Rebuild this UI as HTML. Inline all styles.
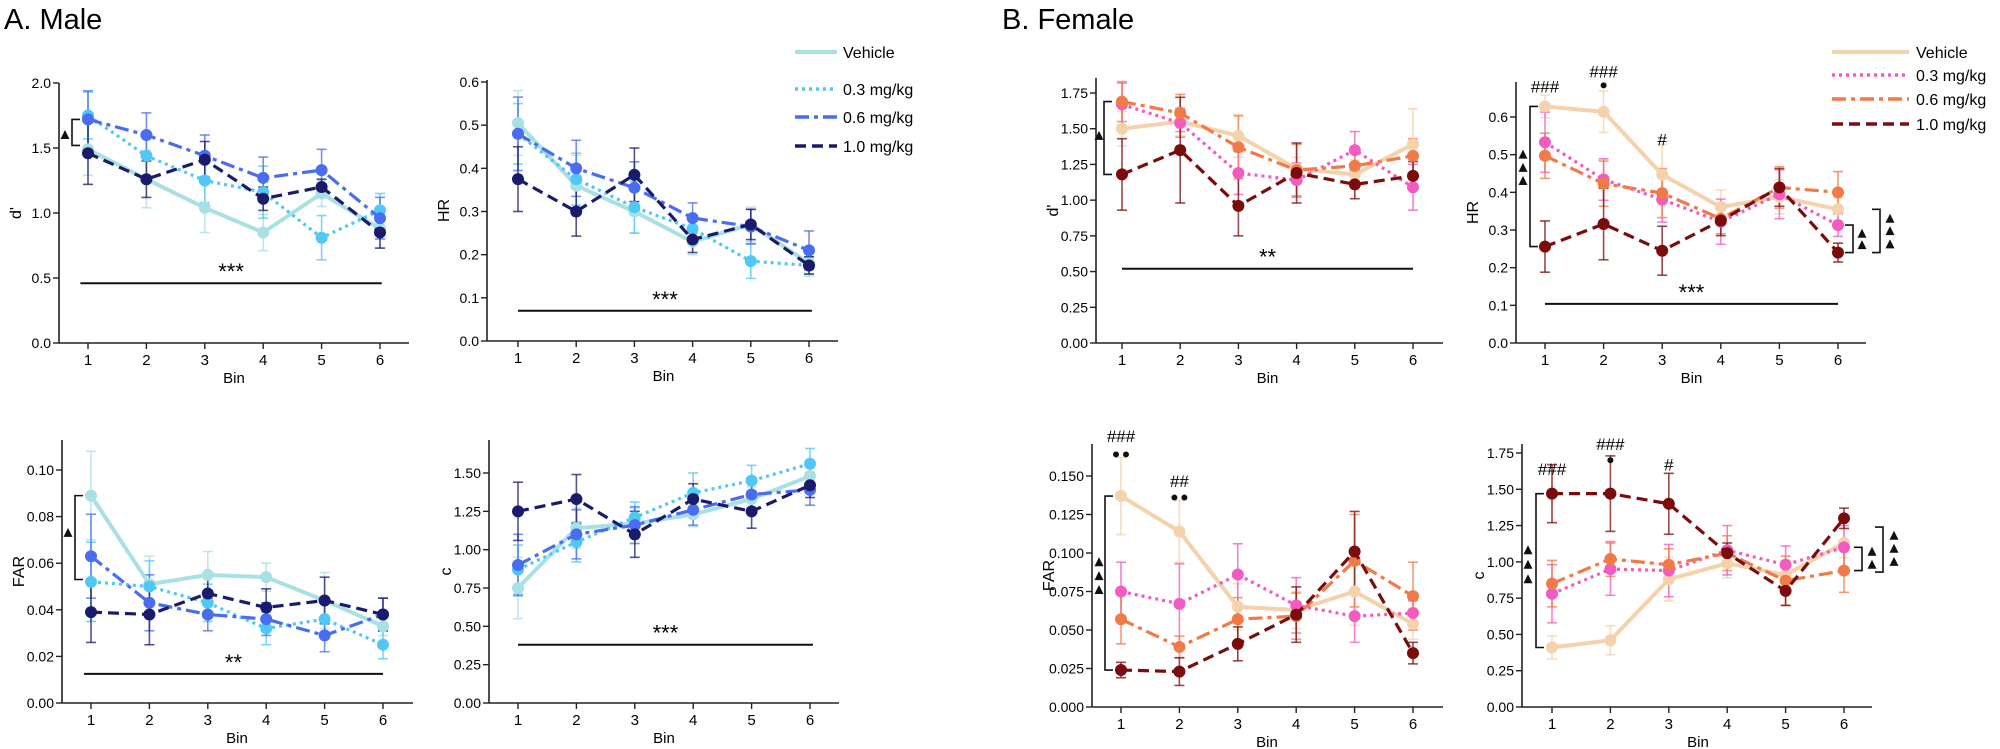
<!DOCTYPE html>
<html><head><meta charset="utf-8"><style>
body{margin:0;background:#fff;}
svg{display:block;font-family:"Liberation Sans",Arial,sans-serif;}
</style></head><body>
<svg id="s" width="2000" height="749" xmlns="http://www.w3.org/2000/svg">
<text x="4" y="29" font-size="29">A. Male</text>
<text x="1002" y="29" font-size="29">B. Female</text>
</svg>
<script>
const NS="http://www.w3.org/2000/svg",S=document.getElementById('s');
function el(t,a,txt){const e=document.createElementNS(NS,t);for(const k in a)e.setAttribute(k,a[k]);if(txt!==undefined)e.textContent=txt;S.appendChild(e);return e;}
const M={veh:'#a9e0e3',d3:'#4fc8f5',d6:'#4a6cf0',d1:'#1b1b6b'};
const F={veh:'#f3d2ac',d3:'#f25cc0',d6:'#f07a48',d1:'#7a0c0c'};
const DASH={veh:'',d3:'3 4',d6:'14 5 4 5',d1:'11 6'};
function panel(p){
 const {ax,y0,ytop,x1,dx,xend,ymax,ticks,fmt,ylab,cols,data,err}=p;
 const sy=v=>y0-(v/ymax)*(y0-p.ymaxY);
 const sx=b=>x1+(b-1)*dx;
 p.sx=sx;p.sy=sy;
 el('line',{x1:ax,y1:ytop,x2:ax,y2:y0,stroke:'#222','stroke-width':1.6});
 el('line',{x1:ax,y1:y0,x2:xend,y2:y0,stroke:'#222','stroke-width':1.6});
 ticks.forEach(v=>{const y=sy(v);el('line',{x1:ax-6,y1:y,x2:ax,y2:y,stroke:'#222','stroke-width':1.4});
  el('text',{x:ax-8,y:y+5,'font-size':14,'text-anchor':'end'},v.toFixed(fmt));});
 for(let b=1;b<=6;b++){el('line',{x1:sx(b),y1:y0,x2:sx(b),y2:y0+6,stroke:'#222','stroke-width':1.4});
  el('text',{x:sx(b),y:y0+22,'font-size':15,'text-anchor':'middle'},b);}
 el('text',{x:(x1+sx(6))/2,y:y0+40,'font-size':15,'text-anchor':'middle'},'Bin');
 el('text',{transform:`translate(${ax-38},${(ytop+y0)/2}) rotate(-90)`,'font-size':16,'text-anchor':'middle'},ylab);
 ['veh','d3','d6','d1'].forEach(k=>{
  const c=cols[k],d=data[k],e=err[k];
  d.forEach((v,i)=>{const x=sx(i+1),a=sy(v-e[i]),bb=sy(v+e[i]);
   el('line',{x1:x,y1:a,x2:x,y2:bb,stroke:c,'stroke-width':1.6,opacity:.75});
   el('line',{x1:x-5,y1:a,x2:x+5,y2:a,stroke:c,'stroke-width':1.6,opacity:.75});
   el('line',{x1:x-5,y1:bb,x2:x+5,y2:bb,stroke:c,'stroke-width':1.6,opacity:.75});});
 });
 ['veh','d3','d6','d1'].forEach(k=>{
  const c=cols[k],d=data[k];
  const pts=d.map((v,i)=>sx(i+1)+','+sy(v)).join(' ');
  el('polyline',{points:pts,fill:'none',stroke:c,'stroke-width':k=='veh'?4:3.2,'stroke-dasharray':DASH[k]});
  d.forEach((v,i)=>el('circle',{cx:sx(i+1),cy:sy(v),r:6,fill:c}));
 });
 if(p.sig){const [yv,b1,b2,txt]=p.sig;const y=sy(yv);
  el('line',{x1:sx(b1),y1:y,x2:sx(b2),y2:y,stroke:'#111','stroke-width':2});
  el('text',{x:(sx(b1)+sx(b2))/2,y:y-4,'font-size':22,'text-anchor':'middle'},txt);}
 return p;
}
function bracket(x,ya,yb,dir){const w=8*dir;el('polyline',{points:`${x+w},${ya} ${x},${ya} ${x},${yb} ${x+w},${yb}`,fill:'none',stroke:'#111','stroke-width':1.6});}
function tri(x,y){el('polygon',{points:`${x-4.5},${y+4} ${x+4.5},${y+4} ${x},${y-5}`,fill:'#111'});}
function txt(x,y,t,s){el('text',{x:x,y:y,'font-size':s||17,'text-anchor':'middle'},t);}
function dot(x,y){el('circle',{cx:x,cy:y,r:3,fill:'#111'});}

// Male d'
let p=panel({ax:59,y0:343,ytop:83,ymaxY:83,x1:88,dx:58.4,xend:409,ymax:2,ticks:[0,.5,1,1.5,2],fmt:1,ylab:"d'",cols:M,
 data:{veh:[1.49,1.26,1.04,.85,1.15,.88],d3:[1.75,1.44,1.25,1.16,.81,1.02],d6:[1.72,1.60,1.44,1.27,1.33,.96],d1:[1.46,1.26,1.41,1.11,1.20,.85]},
 err:{veh:[.2,.22,.19,.14,.1,.15],d3:[.18,.16,.17,.2,.17,.13],d6:[.22,.17,.16,.16,.16,.16],d1:[.24,.14,.14,.09,.06,.12]},sig:[.46,.87,6.03,'***']});
bracket(72,p.sy(1.72),p.sy(1.52),1);tri(65,p.sy(1.6));
// Male HR
p=panel({ax:487,y0:341,ytop:80,ymaxY:82,x1:518,dx:58.2,xend:838,ymax:.6,ticks:[0,.1,.2,.3,.4,.5,.6],fmt:1,ylab:'HR',cols:M,
 data:{veh:[.505,.36,.30,.23,.27,.18],d3:[.48,.375,.31,.26,.185,.175],d6:[.48,.40,.355,.285,.265,.21],d1:[.375,.30,.385,.235,.27,.175]},
 err:{veh:[.075,.07,.05,.03,.04,.03],d3:[.07,.06,.06,.03,.04,.02],d6:[.085,.065,.06,.035,.04,.045],d1:[.075,.057,.062,.03,.035,.02]},sig:[.07,1,6.05,'***']});
// Male FAR
p=panel({ax:62,y0:703,ytop:440,ymaxY:470,x1:91,dx:58.4,xend:413,ymax:.1,ticks:[0,.02,.04,.06,.08,.1],fmt:2,ylab:'FAR',cols:M,
 data:{veh:[.089,.051,.055,.054,.044,.033],d3:[.052,.050,.043,.032,.036,.025],d6:[.063,.043,.038,.036,.029,.038],d1:[.039,.038,.047,.041,.044,.038]},
 err:{veh:[.019,.012,.01,.006,.012,.004],d3:[.017,.011,.008,.007,.007,.006],d6:[.018,.012,.007,.007,.007,.007],d1:[.013,.013,.008,.008,.01,.007]},sig:[.0125,.88,6,'**']});
bracket(75,p.sy(.089),p.sy(.053),1);tri(68,p.sy(.073));
// Male c
p=panel({ax:489,y0:703,ytop:440,ymaxY:473,x1:518,dx:58.4,xend:839,ymax:1.5,ticks:[0,.25,.5,.75,1,1.25,1.5],fmt:2,ylab:'c',cols:M,
 data:{veh:[.75,1.14,1.17,1.23,1.33,1.48],d3:[.87,1.05,1.21,1.37,1.45,1.56],d6:[.90,1.10,1.16,1.26,1.36,1.39],d1:[1.25,1.33,1.10,1.33,1.25,1.42]},
 err:{veh:[.2,.13,.1,.08,.08,.07],d3:[.16,.13,.1,.13,.1,.1],d6:[.2,.16,.12,.1,.1,.1],d1:[.19,.16,.15,.1,.11,.08]},sig:[.38,1,6.05,'***']});
// Female d'
p=panel({ax:1096,y0:343,ytop:78,ymaxY:93,x1:1122,dx:58.2,xend:1443,ymax:1.75,ticks:[0,.25,.5,.75,1,1.25,1.5,1.75],fmt:2,ylab:"d'",cols:F,
 data:{veh:[1.50,1.55,1.45,1.22,1.18,1.39],d3:[1.67,1.54,1.19,1.14,1.35,1.09],d6:[1.69,1.61,1.37,1.21,1.24,1.31],d1:[1.18,1.35,.96,1.19,1.11,1.17]},
 err:{veh:[.12,.1,.15,.08,.1,.25],d3:[.15,.1,.15,.12,.13,.16],d6:[.14,.13,.22,.18,.12,.12],d1:[.25,.37,.21,.21,.1,.1]},sig:[.52,1,6,'**']});
bracket(1104,p.sy(1.69),p.sy(1.18),1);tri(1099,p.sy(1.45));
// Female HR
p=panel({ax:1516,y0:343,ytop:82,ymaxY:117,x1:1545,dx:58.6,xend:1866,ymax:.6,ticks:[0,.1,.2,.3,.4,.5,.6],fmt:1,ylab:'HR',cols:F,
 data:{veh:[.628,.614,.447,.361,.388,.355],d3:[.533,.434,.381,.322,.395,.313],d6:[.497,.423,.398,.330,.413,.400],d1:[.256,.316,.245,.325,.413,.240]},
 err:{veh:[.03,.055,.08,.045,.045,.03],d3:[.08,.055,.06,.06,.065,.03],d6:[.06,.06,.065,.04,.055,.055],d1:[.068,.095,.065,.04,.05,.025]},sig:[.104,1,6,'***']});
bracket(1530,p.sy(.628),p.sy(.256),1);[.50,.465,.43].forEach(v=>tri(1523,p.sy(v)));
txt(p.sx(1),p.sy(.665),'###');txt(p.sx(2),p.sy(.705),'###');dot(p.sx(2),p.sy(.684));txt(p.sx(3),p.sy(.525),'#');
bracket(1853,p.sy(.313),p.sy(.240),-1);[.29,.26].forEach(v=>tri(1862,p.sy(v)));
bracket(1880,p.sy(.355),p.sy(.24),-1);[.33,.297,.262].forEach(v=>tri(1890,p.sy(v)));
// Female FAR
p=panel({ax:1092,y0:707,ytop:444,ymaxY:476,x1:1121,dx:58.4,xend:1443,ymax:.15,ticks:[0,.025,.05,.075,.1,.125,.15],fmt:3,ylab:'FAR',cols:F,
 data:{veh:[.137,.114,.065,.063,.075,.054],d3:[.075,.067,.086,.066,.059,.061],d6:[.057,.039,.057,.059,.095,.072],d1:[.024,.023,.041,.060,.101,.035]},
 err:{veh:[.025,.02,.015,.012,.022,.01],d3:[.019,.026,.02,.018,.017,.008],d6:[.016,.007,.014,.015,.03,.022],d1:[.005,.009,.011,.018,.026,.007]},sig:null});
bracket(1105,p.sy(.137),p.sy(.024),1);[.094,.085,.076].forEach(v=>tri(1099,p.sy(v)));
txt(p.sx(1),p.sy(.172),'###');dot(p.sx(1)-5,p.sy(.164));dot(p.sx(1)+5,p.sy(.164));
txt(p.sx(2),p.sy(.143),'##');dot(p.sx(2)-5,p.sy(.136));dot(p.sx(2)+5,p.sy(.136));
// Female c
p=panel({ax:1522,y0:707,ytop:444,ymaxY:453,x1:1552,dx:58.4,xend:1872,ymax:1.75,ticks:[0,.25,.5,.75,1,1.25,1.5,1.75],fmt:2,ylab:'c',cols:F,
 data:{veh:[.41,.46,.88,.99,.91,1.13],d3:[.78,.95,.94,1.08,.98,1.10],d6:[.85,1.02,.98,1.06,.87,.94],d1:[1.47,1.47,1.40,1.06,.80,1.30]},
 err:{veh:[.08,.1,.15,.1,.1,.1],d3:[.2,.18,.18,.17,.13,.15],d6:[.16,.12,.11,.12,.17,.15],d1:[.2,.26,.21,.07,.1,.07]},sig:null});
bracket(1536,p.sy(1.47),p.sy(.41),1);[1.08,.98,.88].forEach(v=>tri(1528,p.sy(v)));
txt(p.sx(1),p.sy(1.6),'###');txt(p.sx(2),p.sy(1.77),'###');dot(p.sx(2),p.sy(1.7));txt(p.sx(3),p.sy(1.63),'#');
bracket(1862,p.sy(1.10),p.sy(.94),-1);[1.07,.98].forEach(v=>tri(1872,p.sy(v)));
bracket(1883,p.sy(1.24),p.sy(.93),-1);[1.18,1.09,1.0].forEach(v=>tri(1894,p.sy(v)));
// legends
function legend(x1,x2,tx,ys,cols){['veh','d3','d6','d1'].forEach((k,i)=>{
 el('line',{x1:x1,y1:ys[i],x2:x2,y2:ys[i],stroke:cols[k],'stroke-width':k=='veh'?4:3.4,'stroke-dasharray':DASH[k]});
 el('text',{x:tx,y:ys[i]+6,'font-size':16},['Vehicle','0.3 mg/kg','0.6 mg/kg','1.0 mg/kg'][i]);});}
legend(795,837,843,[52,89,117,146],M);
legend(1832,1909,1916,[52,75,99,124],F);
</script>
</body></html>
